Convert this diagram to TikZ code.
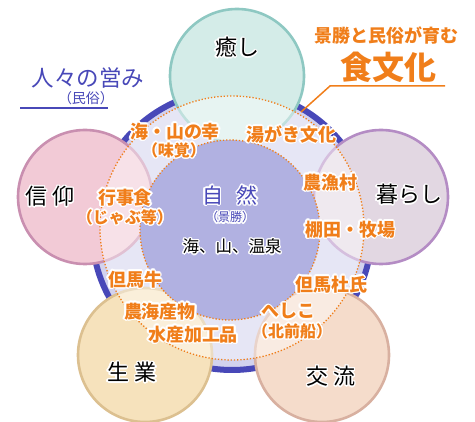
\documentclass[tikz,border=0pt]{standalone}
\usepackage{fontspec}
\setmainfont{Noto Sans CJK JP}
\usepackage[copies]{contour}
\contourlength{1.4pt}
\contournumber{16}
\definecolor{lavF}{HTML}{D2D2EE}
\definecolor{ringC}{HTML}{4848B8}
\definecolor{innerF}{HTML}{B1B1E1}
\definecolor{orgC}{HTML}{F07E1A}
\definecolor{tealF}{HTML}{D4ECE8}
\definecolor{tealB}{HTML}{8EC8C2}
\definecolor{purF}{HTML}{E2D7E2}
\definecolor{purB}{HTML}{B48CC4}
\definecolor{pinkF}{HTML}{F2CAD6}
\definecolor{pinkB}{HTML}{C98FB0}
\definecolor{yelF}{HTML}{F6E2BC}
\definecolor{yelB}{HTML}{DCC090}
\definecolor{peaF}{HTML}{F5DCCB}
\definecolor{peaB}{HTML}{D8B0A0}
\tikzset{
  petal/.style 2 args={circle, minimum size=134pt, inner sep=0pt, fill=#1, draw=#2, line width=2.6pt},
  dotline/.style={draw=orgC, line width=1.3pt, dash pattern=on 1.3pt off 1.9pt},
  olab/.style={text=orgC, font=\bfseries\fontsize{18}{20}\selectfont, inner sep=0pt, align=center},
  olabs/.style={text=orgC, font=\bfseries\fontsize{16}{18}\selectfont, inner sep=0pt},
  klab/.style={text=black, font=\fontsize{22}{24}\selectfont, inner sep=0pt},
  blab/.style={text=ringC, inner sep=0pt},
}
\newcommand{\hal}[1]{\contour{white}{#1}}
\begin{document}
\begin{tikzpicture}[x=1pt,y=-1pt]
\useasboundingbox (0,0) rectangle (475,422);
% big circle with ring
\node[circle, minimum size=280pt, inner sep=0pt, fill=lavF, draw=ringC, line width=6pt] (big) at (232,230) {};
% petals
\node[petal={tealF}{tealB}] (iyashi) at (237,76) {};
\node[petal={purF}{purB}] (kurashi) at (381,197) {};
\node[petal={pinkF}{pinkB}] (shinko) at (85,197) {};
\node[petal={yelF}{yelB}] (seigyo) at (145,355) {};
\node[petal={peaF}{peaB}] (koryu) at (322,355) {};
% food culture dotted circle with white veil
\node[circle, minimum size=264pt, inner sep=0pt, fill=white, fill opacity=0.45, dotline] (food) at (232,228) {};
% nature circle
\node[circle, minimum size=180pt, inner sep=0pt, fill=innerF, dotline] (shizen) at (230,230) {};
% petal labels
\node[klab] (t1) at (237,48) {\hal{癒し}};
\node[klab] (t2) at (50,197) {\hal{信\hspace{5pt}仰}};
\node[klab] (t3) at (409,195) {\hal{暮らし}};
\node[klab] (t4) at (132,373) {\hal{生\hspace{6pt}業}};
\node[klab] (t5) at (331,377) {\hal{交\hspace{5pt}流}};
% nature labels
\node[blab, font=\fontsize{21}{23}\selectfont] (n1) at (230,196) {\hal{自\hspace{14pt}然}};
\node[blab, font=\fontsize{12}{14}\selectfont] (n2) at (230,218) {\hal{（景勝）}};
\node[inner sep=0pt, font=\fontsize{16.5}{18}\selectfont] (n3) at (232,247) {\hal{海、山、温泉}};
% orange labels
\node[olab] (o1) at (175,132) {\hal{海・山の幸}};
\node[olabs] (o1b) at (174,151) {\hal{（味覚）}};
\node[olab] (o2) at (291,135) {\hal{湯がき文化}};
\node[olab] (o3) at (125,198) {\hal{行事食}};
\node[olabs] (o3b) at (125,218) {\hal{（じゃぶ等）}};
\node[olab] (o4) at (330,183) {\hal{農漁村}};
\node[olab] (o5) at (350,230) {\hal{棚田・牧場}};
\node[olab] (o6) at (135,280) {\hal{但馬牛}};
\node[olab] (o7) at (160,312) {\hal{農海産物}};
\node[olab] (o8) at (193,335) {\hal{水産加工品}};
\node[olab] (o9) at (331,285) {\hal{但馬杜氏}};
\node[olab] (o10) at (288,312) {\hal{へしこ}};
\node[olabs] (o11) at (292,332) {\hal{（北前船）}};
% top-left caption
\node[blab, font=\fontsize{22.5}{24}\selectfont] (c1) at (88,78) {人々の営み};
\node[blab, font=\fontsize{14}{16}\selectfont] (c2) at (86,98) {（民俗）};
\coordinate (u0) at (20,108);
\coordinate (u1) at (big.150);
\draw[ringC, line width=1.5pt] (u0) -- (u0 -| u1);
% top-right caption
\node[text=orgC, font=\bfseries\fontsize{18}{20}\selectfont, inner sep=0pt] (c3) at (386,35) {景勝と民俗が育む};
\node[text=orgC, font=\bfseries\fontsize{32}{34}\selectfont, inner sep=0pt] (c4) at (388,67) {食文化};
\coordinate (v0) at (330,86);
\coordinate (v1) at (445,86);
\coordinate (v2) at (301,112);
\draw[orgC, line width=1.5pt] (v1) -- (v0) -- (v2);
\end{tikzpicture}
\end{document}
